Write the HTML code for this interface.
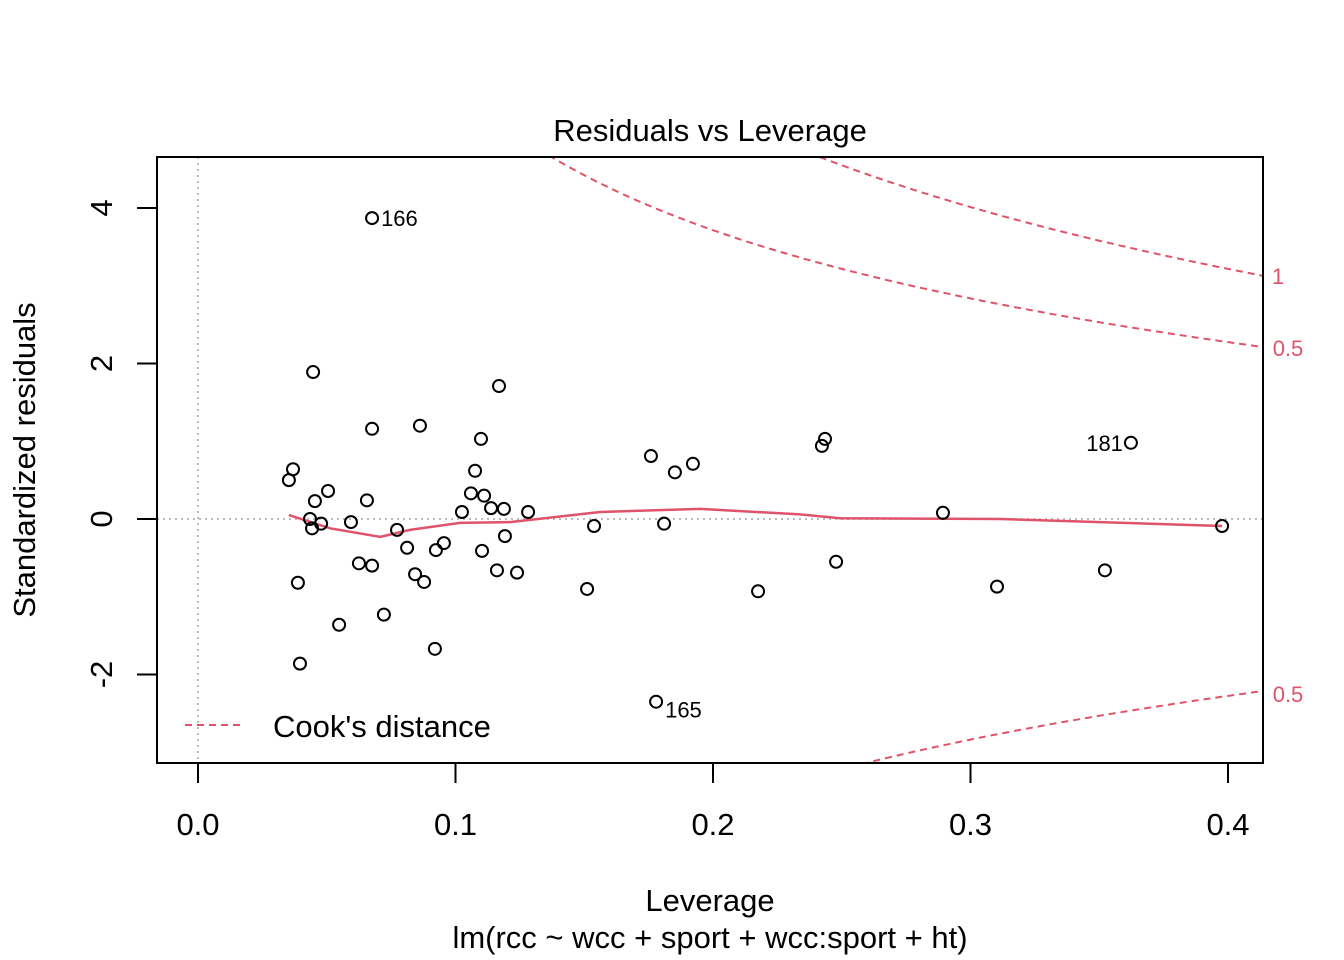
<!DOCTYPE html>
<html><head><meta charset="utf-8"><style>
html,body{margin:0;padding:0;background:#fff;overflow:hidden;width:1344px;height:960px;}
svg{display:block;}
svg text{font-family:"Liberation Sans",Arial,sans-serif;}
</style></head><body>
<svg id="chart" width="1344" height="960" viewBox="0 0 1344 960" xmlns="http://www.w3.org/2000/svg"></svg>
<script>
const levX = [0.0676,0.0447,0.1169,0.0676,0.0862,0.1099,0.0369,0.0353,0.1076,0.1759,0.1852,0.1922,0.2435,0.2423,0.3623,0.0505,0.0454,0.0656,0.1060,0.1111,0.1138,0.1188,0.1282,0.1025,0.0435,0.0594,0.0478,0.0443,0.0773,0.1538,0.1810,0.2893,0.3977,0.1192,0.0812,0.0955,0.0924,0.1103,0.0625,0.0676,0.1161,0.1239,0.0843,0.0878,0.0388,0.2478,0.1511,0.2175,0.3103,0.3522,0.0548,0.0722,0.0920,0.0396,0.1779];
const resY = [3.87,1.89,1.71,1.16,1.20,1.03,0.64,0.50,0.62,0.81,0.60,0.71,1.03,0.94,0.98,0.36,0.23,0.24,0.33,0.30,0.14,0.13,0.09,0.09,0.00,-0.04,-0.06,-0.12,-0.14,-0.09,-0.06,0.08,-0.09,-0.22,-0.37,-0.31,-0.40,-0.41,-0.57,-0.60,-0.66,-0.69,-0.71,-0.81,-0.82,-0.55,-0.90,-0.93,-0.87,-0.66,-1.36,-1.23,-1.67,-1.86,-2.35];
const labelIdx = [0,14,54];
const labelTxt = ["166","181","165"];
const smoothX = [0.0353,0.0513,0.0707,0.0823,0.1017,0.1212,0.1561,0.1950,0.2338,0.2493,0.3115,0.3977];
const smoothY = [0.05,-0.12,-0.23,-0.14,-0.05,-0.04,0.09,0.13,0.06,0.01,0.00,-0.09];
const xTicks = [0.0,0.1,0.2,0.3,0.4];
const xTickLabels = ["0.0","0.1","0.2","0.3","0.4"];
const yTicks = [-2,0,2,4];
const yTickLabels = ["-2","0","2","4"];
const cookLevels = [0.5,1];
const cookLabels = ["0.5","1"];
const nParams = 6.9;

const svg = document.getElementById('chart');
const NS = 'http://www.w3.org/2000/svg';
const L=157,R=1263,T=157,B=763;
const sx = v => 198 + v*2575;
const sy = v => 519 - v*77.75;
function mk(tag, attrs, parent){const e=document.createElementNS(NS,tag);for(const k in attrs)e.setAttribute(k,attrs[k]);(parent||svg).appendChild(e);return e;}

const defs = mk('defs',{});
const cp = mk('clipPath',{id:'clip'},defs);
mk('rect',{x:L,y:T,width:R-L,height:B-T},cp);

let e = mk('line',{x1:sx(0),x2:sx(0),y1:T,y2:B,stroke:'#bbb','stroke-width':2,'stroke-dasharray':'2,4'});


e = mk('line',{x1:L,x2:R,y1:sy(0),y2:sy(0),stroke:'#bbb','stroke-width':2,'stroke-dasharray':'2,4'});



const g = mk('g',{'clip-path':'url(#clip)'});
cookLevels.forEach((lv,i)=>{
  [1,-1].forEach(sg=>{
    if(sg<0 && lv>0.5) return;
    let d='';
    for(let k=0;k<=200;k++){const h=0.03+k*(0.42-0.03)/200;const y=sg*Math.sqrt(lv*nParams*(1-h)/h);d+=(k?'L':'M')+sx(h).toFixed(1)+','+sy(y).toFixed(1);}
    const p = mk('path',{d:d,fill:'none',stroke:'#DF536B','stroke-width':2,'stroke-dasharray':'7,5'},g);
    
    
  });
});
let d='';smoothX.forEach((x,i)=>{d+=(i?'L':'M')+sx(x)+','+sy(smoothY[i]);});
e = mk('path',{d:d,fill:'none',stroke:'#DF536B','stroke-width':2.5});



levX.forEach((x,i)=>{
  const c = mk('circle',{cx:sx(x),cy:sy(resY[i]),r:6,fill:'none',stroke:'#000','stroke-width':2});
  
  
});
labelIdx.forEach((idx,j)=>{
  const x=sx(levX[idx]), y=sy(resY[idx]);
  const left = j===1;
  const t = mk('text',{x:left?x-8:x+9,y:y+(j===2?16:8),'font-size':22,'text-anchor':left?'end':'start'});
  t.textContent = labelTxt[j];
  
  
});

e = mk('rect',{x:L,y:T,width:R-L,height:B-T,fill:'none',stroke:'#000','stroke-width':2});



xTicks.forEach((v,i)=>{
  const l = mk('line',{x1:sx(v),x2:sx(v),y1:B,y2:B+20,stroke:'#000','stroke-width':2});
  
  
  const t = mk('text',{x:sx(v),y:835,'font-size':31,'text-anchor':'middle'});
  t.textContent=xTickLabels[i];
  
  
});
yTicks.forEach((v,i)=>{
  const l = mk('line',{x1:L,x2:L-20,y1:sy(v),y2:sy(v),stroke:'#000','stroke-width':2});
  
  
  const t = mk('text',{x:0,y:0,'font-size':31,'text-anchor':'middle',transform:`translate(112,${sy(v)}) rotate(-90)`});
  t.textContent=yTickLabels[i];
  
  
});

[[ "1",1278,284],["0.5",1288,356],["0.5",1288,702]].forEach(a=>{
  const t = mk('text',{x:a[1],y:a[2],'font-size':22,fill:'#DF536B','text-anchor':'middle'});
  t.textContent=a[0];
  
  
});

function txt(s,x,y,sz,name,extra){const t=mk('text',Object.assign({x:x,y:y,'font-size':sz,'text-anchor':'middle'},extra||{}));t.textContent=s;return t;}
txt('Residuals vs Leverage',710,141,31,'chart-title');
txt('Leverage',710,911,31,'x-axis-title');
txt('lm(rcc ~ wcc + sport + wcc:sport + ht)',710,948,31,'model-formula');
txt('Standardized residuals',0,0,31,'y-axis-title',{transform:'translate(35,460) rotate(-90)'});

e = mk('line',{x1:185,x2:245,y1:725,y2:725,stroke:'#DF536B','stroke-width':2,'stroke-dasharray':'7,5'});


const lt = mk('text',{x:273,y:737,'font-size':31});
lt.textContent="Cook's distance";


</script>
</body></html>
